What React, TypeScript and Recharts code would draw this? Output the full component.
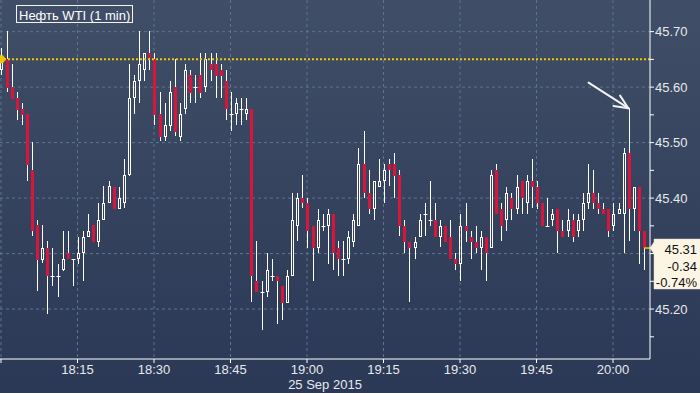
import React from 'react';
import { ComposedChart, Bar, XAxis, YAxis, CartesianGrid, ReferenceLine } from 'recharts';

// minutes after 18:00, one candle per minute
const minutes: number[] = Array.from({ length: 127 }, (_, i) => i);

const opens = [
  45.631, 45.650, 45.600, 45.580, 45.561, 45.552, 45.451, 45.352, 45.289, 45.310,
  45.260, 45.260, 45.271, 45.301, 45.290, 45.290, 45.301, 45.329, 45.352, 45.320,
  45.361, 45.392, 45.420, 45.380, 45.391, 45.442, 45.580, 45.611, 45.631, 45.661,
  45.650, 45.552, 45.510, 45.530, 45.600, 45.510, 45.560, 45.622, 45.600, 45.622,
  45.600, 45.642, 45.642, 45.631, 45.611, 45.551, 45.551, 45.560, 45.551, 45.560,
  45.251, 45.230, 45.230, 45.260, 45.260, 45.241, 45.211, 45.260, 45.350, 45.400,
  45.391, 45.350, 45.310, 45.350, 45.350, 45.371, 45.310, 45.290, 45.290, 45.320,
  45.350, 45.461, 45.410, 45.380, 45.420, 45.430, 45.461, 45.461, 45.442, 45.350,
  45.320, 45.310, 45.329, 45.371, 45.361, 45.361, 45.329, 45.350, 45.329, 45.290,
  45.281, 45.350, 45.329, 45.320, 45.310, 45.329, 45.310, 45.451, 45.380, 45.361,
  45.400, 45.380, 45.430, 45.391, 45.430, 45.420, 45.391, 45.350, 45.361, 45.380,
  45.341, 45.340, 45.361, 45.340, 45.361, 45.391, 45.410, 45.391, 45.380, 45.380,
  45.350, 45.371, 45.371, 45.481, 45.380, 45.420, 45.341,
];
const highs = [
  45.670, 45.701, 45.642, 45.591, 45.571, 45.552, 45.501, 45.361, 45.352, 45.322,
  45.310, 45.281, 45.341, 45.341, 45.290, 45.329, 45.341, 45.371, 45.352, 45.392,
  45.421, 45.431, 45.420, 45.420, 45.470, 45.642, 45.622, 45.701, 45.661, 45.701,
  45.661, 45.591, 45.571, 45.611, 45.650, 45.571, 45.642, 45.631, 45.622, 45.661,
  45.661, 45.661, 45.661, 45.642, 45.631, 45.591, 45.580, 45.580, 45.580, 45.560,
  45.322, 45.251, 45.301, 45.290, 45.260, 45.241, 45.271, 45.410, 45.410, 45.442,
  45.400, 45.350, 45.380, 45.371, 45.380, 45.371, 45.322, 45.322, 45.341, 45.371,
  45.490, 45.521, 45.451, 45.430, 45.470, 45.461, 45.470, 45.481, 45.451, 45.361,
  45.320, 45.329, 45.371, 45.392, 45.431, 45.392, 45.361, 45.350, 45.361, 45.301,
  45.371, 45.392, 45.341, 45.350, 45.341, 45.329, 45.451, 45.461, 45.392, 45.420,
  45.410, 45.442, 45.430, 45.442, 45.470, 45.430, 45.391, 45.400, 45.380, 45.380,
  45.361, 45.380, 45.371, 45.371, 45.410, 45.461, 45.451, 45.410, 45.391, 45.380,
  45.391, 45.391, 45.491, 45.562, 45.420, 45.420, 45.341,
];
const lows = [
  45.622, 45.592, 45.579, 45.541, 45.532, 45.431, 45.331, 45.232, 45.283, 45.191,
  45.241, 45.221, 45.269, 45.290, 45.241, 45.281, 45.251, 45.329, 45.320, 45.311,
  45.361, 45.391, 45.380, 45.380, 45.382, 45.440, 45.552, 45.572, 45.611, 45.631,
  45.532, 45.502, 45.502, 45.521, 45.511, 45.502, 45.552, 45.571, 45.571, 45.580,
  45.591, 45.611, 45.581, 45.581, 45.541, 45.521, 45.532, 45.532, 45.541, 45.212,
  45.230, 45.163, 45.221, 45.251, 45.173, 45.180, 45.211, 45.260, 45.322, 45.382,
  45.310, 45.251, 45.301, 45.341, 45.281, 45.271, 45.260, 45.260, 45.281, 45.311,
  45.350, 45.400, 45.371, 45.361, 45.420, 45.392, 45.421, 45.400, 45.331, 45.301,
  45.212, 45.290, 45.329, 45.331, 45.350, 45.329, 45.311, 45.320, 45.290, 45.271,
  45.251, 45.320, 45.290, 45.301, 45.270, 45.251, 45.310, 45.371, 45.322, 45.341,
  45.361, 45.371, 45.371, 45.371, 45.382, 45.380, 45.350, 45.350, 45.350, 45.301,
  45.329, 45.329, 45.320, 45.329, 45.341, 45.380, 45.380, 45.371, 45.371, 45.329,
  45.341, 45.371, 45.301, 45.322, 45.341, 45.281, 45.271,
];
const closes = [
  45.655, 45.599, 45.579, 45.559, 45.550, 45.460, 45.340, 45.289, 45.310, 45.260,
  45.260, 45.260, 45.290, 45.290, 45.290, 45.301, 45.329, 45.341, 45.320, 45.361,
  45.392, 45.421, 45.380, 45.400, 45.442, 45.580, 45.611, 45.642, 45.661, 45.652,
  45.550, 45.510, 45.532, 45.591, 45.520, 45.552, 45.631, 45.590, 45.600, 45.590,
  45.650, 45.630, 45.620, 45.620, 45.560, 45.551, 45.571, 45.560, 45.560, 45.260,
  45.230, 45.230, 45.271, 45.260, 45.251, 45.211, 45.260, 45.361, 45.400, 45.391,
  45.340, 45.310, 45.361, 45.350, 45.371, 45.301, 45.290, 45.290, 45.329, 45.361,
  45.461, 45.410, 45.380, 45.430, 45.430, 45.451, 45.451, 45.440, 45.350, 45.320,
  45.310, 45.320, 45.361, 45.371, 45.361, 45.329, 45.350, 45.320, 45.290, 45.281,
  45.350, 45.340, 45.320, 45.310, 45.329, 45.301, 45.442, 45.371, 45.350, 45.410,
  45.380, 45.420, 45.400, 45.430, 45.420, 45.391, 45.350, 45.350, 45.371, 45.340,
  45.329, 45.361, 45.329, 45.361, 45.391, 45.410, 45.391, 45.380, 45.371, 45.340,
  45.371, 45.380, 45.481, 45.380, 45.420, 45.340, 45.310,
];

const timeTicks = [0, 15, 30, 45, 60, 75, 90, 105, 120];
const timeLabels = ['', '18:15', '18:30', '18:45', '19:00', '19:15', '19:30', '19:45', '20:00'];
const priceTicks = [45.15, 45.2, 45.25, 45.3, 45.35, 45.4, 45.45, 45.5, 45.55, 45.6, 45.65, 45.7];
const gridPrices = [45.2, 45.3, 45.4, 45.5, 45.6, 45.7];
const dateLabel = '25 Sep 2015';
const title = 'Нефть WTI (1 min)';
const prevClose = 45.65;
const lastPrice = 45.31;
const lastChange = '-0.34';
const lastPct = '-0.74%';
const arrowFrom = { t: 115.2, p: 45.608 };
const arrowTo = { t: 123, p: 45.562 };

const data = minutes.map((t, i) => ({
  t,
  range: [lows[i], highs[i]],
  open: opens[i],
  high: highs[i],
  low: lows[i],
  close: closes[i],
}));

const FONT = "'Liberation Sans', Arial, sans-serif";
const RED = '#dc143c';
const WHITE = '#ffffff';

const Candle = (props: any) => {
  const { x, y, width, height, payload } = props;
  if (!payload || x == null) return null;
  const { open, close, high, low } = payload;
  const top = Math.min(y, y + height);
  const h = Math.abs(height);
  const span = high - low;
  const k = span > 0 ? h / span : 0;
  const py = (v: number) => top + (high - v) * k;
  const c = Math.round(x + width / 2);
  const lx = c + 0.5;
  const yTop = Math.round(top);
  const yBot = Math.round(top + h);
  const yo = Math.round(py(open));
  const yc = Math.round(py(close));
  if (close === open) {
    return (
      <g>
        <line x1={lx} x2={lx} y1={yTop} y2={yBot} stroke={WHITE} strokeWidth={1} />
        <line x1={c - 1.5} x2={c + 2.5} y1={yo + 0.5} y2={yo + 0.5} stroke={WHITE} strokeWidth={1} />
      </g>
    );
  }
  const bt = Math.min(yo, yc);
  const bb = Math.max(yo, yc);
  const bh = Math.max(bb - bt, 1);
  if (close < open) {
    return (
      <g>
        <line x1={lx} x2={lx} y1={yTop} y2={yBot} stroke={WHITE} strokeWidth={1} />
        <rect x={c - 1} y={bt} width={3} height={bh} fill={RED} />
      </g>
    );
  }
  return (
    <g>
      <line x1={lx} x2={lx} y1={yTop} y2={bt} stroke={WHITE} strokeWidth={1} />
      <line x1={lx} x2={lx} y1={bt + bh} y2={yBot} stroke={WHITE} strokeWidth={1} />
      <rect x={c - 0.5} y={bt + 0.5} width={2} height={Math.max(bh - 1, 1)} fill="none" stroke={WHITE} strokeWidth={1} />
    </g>
  );
};

const ArrowShape = (props: any) => {
  const { x1, y1, x2, y2 } = props;
  if (x1 == null) return null;
  const ang = Math.atan2(y2 - y1, x2 - x1);
  const L = 15;
  const a = 0.42;
  return (
    <g stroke="#f2f2f2" strokeWidth={2} strokeLinecap="round" fill="none">
      <line x1={x1} y1={y1} x2={x2} y2={y2} />
      <line x1={x2} y1={y2} x2={x2 - L * Math.cos(ang - a)} y2={y2 - L * Math.sin(ang - a)} />
      <line x1={x2} y1={y2} x2={x2 - L * Math.cos(ang + a)} y2={y2 - L * Math.sin(ang + a)} />
    </g>
  );
};

const PrevMarker = (props: any) => {
  const vb = props.viewBox;
  if (!vb) return null;
  const x = vb.x;
  const y = vb.y;
  return (
    <polygon
      points={`${x},${y - 4} ${x + 3},${y - 4} ${x + 6},${y} ${x + 3},${y + 4} ${x},${y + 4}`}
      fill="#f0c800"
    />
  );
};

const PriceBox = (props: any) => {
  const vb = props.viewBox;
  if (!vb) return null;
  const xr = vb.x + vb.width;
  const yp = vb.y;
  const L = xr + 4;
  const R = 702;
  const pts = `${xr},${yp} ${L},${yp - 6} ${L},${yp - 9} ${R},${yp - 9} ${R},${yp + 41} ${L},${yp + 41} ${L},${yp + 6}`;
  return (
    <g>
      <line x1={xr - 6} x2={xr} y1={yp} y2={yp} stroke="#f0c800" strokeWidth={1.5} />
      <polygon points={pts} fill="#fdf5e4" stroke="#e9d9b8" strokeWidth={0.5} />
      <g fontFamily={FONT} fontSize={13} fill="#111" textAnchor="end">
        <text x={697} y={yp + 6}>{lastPrice.toFixed(2)}</text>
        <text x={697} y={yp + 22.5}>{lastChange}</text>
        <text x={697} y={yp + 38.5}>{lastPct}</text>
      </g>
    </g>
  );
};

const DateLabel = (props: any) => {
  const vb = props.viewBox;
  if (!vb) return null;
  return (
    <text x={vb.x + vb.width / 2} y={vb.y + vb.height - 4.5} textAnchor="middle" fontFamily={FONT} fontSize={13} fill="#e6e9ee">
      {dateLabel}
    </text>
  );
};

const isMajor = (v: number) => Math.abs(v * 10 - Math.round(v * 10)) < 1e-6;
// the last-price box covers the axis label nearest to it
const coveredByBox = (v: number) => Math.abs(v - lastPrice) < 0.03;

export default function App() {
  return (
    <div
      style={{
        position: 'relative',
        width: 700,
        height: 393,
        background: 'linear-gradient(180deg, #404e67 0%, #36445f 45%, #2b3856 100%)',
        overflow: 'hidden',
      }}
    >
      <style>{'body{margin:0;}'}</style>
      <ComposedChart width={700} height={393} data={data} margin={{ top: 0, right: 0, bottom: 0, left: 0 }}>
        <CartesianGrid
          stroke="#5f7391"
          strokeDasharray="3 3"
          horizontalValues={gridPrices}
          verticalValues={timeTicks}
        />
        <XAxis
          dataKey="t"
          type="number"
          domain={[-0.196, 127.25]}
          allowDataOverflow
          ticks={timeTicks}
          tickFormatter={(v: number) => timeLabels[timeTicks.indexOf(v)] ?? ''}
          height={34}
          stroke={WHITE}
          tickSize={4}
          tickMargin={2}
          tick={{ fill: '#e6e9ee', fontSize: 13, fontFamily: FONT }}
          label={<DateLabel />}
        />
        <YAxis
          orientation="right"
          type="number"
          domain={[45.11, 45.757]}
          allowDataOverflow
          ticks={priceTicks}
          tickFormatter={(v: number) => (isMajor(v) && !coveredByBox(v) ? v.toFixed(2) : '')}
          width={50}
          stroke={WHITE}
          tickSize={4}
          tickMargin={1}
          tick={{ fill: '#e6e9ee', fontSize: 13, fontFamily: FONT }}
        />
        <ReferenceLine
          y={prevClose}
          stroke="#f0c800"
          strokeWidth={2}
          strokeDasharray="2 2"
          label={<PrevMarker />}
        />
        <Bar dataKey="range" shape={<Candle />} barSize={4} isAnimationActive={false} />
        <ReferenceLine
          segment={[
            { x: arrowFrom.t, y: arrowFrom.p },
            { x: arrowTo.t, y: arrowTo.p },
          ]}
          shape={ArrowShape}
        />
        <ReferenceLine y={lastPrice} stroke="none" label={<PriceBox />} />
      </ComposedChart>
      <svg width={200} height={30} style={{ position: 'absolute', left: 0, top: 0 }}>
        <rect x={16.5} y={5.5} width={116} height={17} fill="none" stroke="#f4f4f4" strokeWidth={1} />
        <text x={19} y={19.5} fontFamily={FONT} fontSize={13} fill="#ffffff">
          {title}
        </text>
      </svg>
    </div>
  );
}
